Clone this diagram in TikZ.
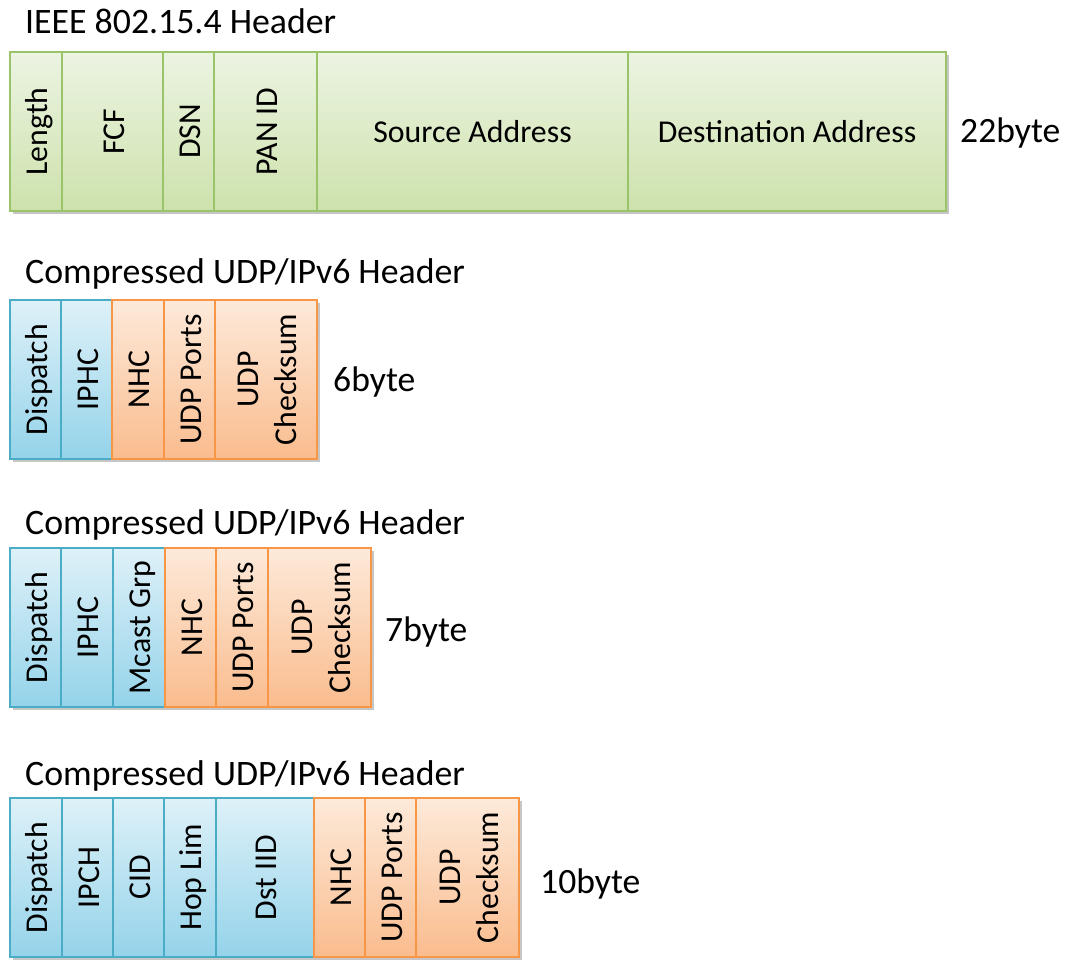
\documentclass[tikz,border=0pt]{standalone}
\usepackage{fontspec}
\setmainfont{Carlito}
\usepackage{graphicx}
\usepackage{xcolor}
\usetikzlibrary{shadows}

\definecolor{gline}{RGB}{155,195,105}
\definecolor{gtop}{RGB}{236,244,226}
\definecolor{gbot}{RGB}{205,226,172}
\definecolor{bline}{RGB}{75,172,198}
\definecolor{btop}{RGB}{222,241,248}
\definecolor{bbot}{RGB}{148,211,234}
\definecolor{oline}{RGB}{247,150,70}
\definecolor{otop}{RGB}{253,234,218}
\definecolor{obot}{RGB}{250,188,142}

\newcommand{\vlabel}[1]{\hspace*{8pt}\rotatebox{90}{\begin{tabular}{@{}c@{}}#1\end{tabular}}}

\tikzset{
    field/.style={rectangle, anchor=north west, line width=1.2pt, inner sep=0pt, outer sep=0pt,
        minimum height=159pt, font=\fontsize{31.8}{38}\selectfont,
        drop shadow={shadow xshift=2.5pt, shadow yshift=-2.5pt, opacity=0.45}},
    gfield/.style={field, draw=gline, top color=gtop, bottom color=gbot},
    bfield/.style={field, draw=bline, top color=btop, bottom color=bbot},
    ofield/.style={field, draw=oline, top color=otop, bottom color=obot},
    title/.style={anchor=base west, inner sep=0pt, font=\fontsize{35.8}{42}\selectfont},
    bytes/.style={anchor=west, inner sep=0pt, font=\fontsize{35.6}{42}\selectfont}
}

\begin{document}
\begin{tikzpicture}[x=1pt, y=-1pt]
        \useasboundingbox (0,0) rectangle (1069,961);
        % IEEE 802.15.4 header
        \node[title] (ieeetitle) at (25,34) {IEEE 802.15.4 Header};
        \node[gfield, minimum width=52] (len) at (10,52) {\vlabel{Length}};
        \node[gfield, minimum width=101] (fcf) at (62,52) {\vlabel{FCF}};
        \node[gfield, minimum width=51] (dsn) at (163,52) {\vlabel{DSN}};
        \node[gfield, minimum width=103] (panid) at (214,52) {\vlabel{PAN ID}};
        \node[gfield, minimum width=311] (srcaddr) at (317,52) {Source Address};
        \node[gfield, minimum width=318] (dstaddr) at (628,52) {Destination Address};
        \node[bytes] (bytesA) at (960,133) {22byte};
        % compressed, 6 byte
        \node[title] (titleB) at (25,283) {Compressed UDP/IPv6 Header};
        \node[bfield, minimum width=51] (dispB) at (10,300) {\vlabel{Dispatch}};
        \node[bfield, minimum width=51] (iphcB) at (61,300) {\vlabel{IPHC}};
        \node[ofield, minimum width=52] (nhcB) at (112,300) {\vlabel{NHC}};
        \node[ofield, minimum width=51] (portsB) at (164,300) {\vlabel{UDP Ports}};
        \node[ofield, minimum width=102] (csumB) at (215,300) {\vlabel{UDP\\Checksum}};
        \node[bytes] (bytesB) at (333,382) {6byte};
        % compressed, 7 byte
        \node[title] (titleC) at (25,534) {Compressed UDP/IPv6 Header};
        \node[bfield, minimum width=51] (dispC) at (10,548) {\vlabel{Dispatch}};
        \node[bfield, minimum width=52] (iphcC) at (61,548) {\vlabel{IPHC}};
        \node[bfield, minimum width=52] (mcastC) at (113,548) {\vlabel{Mcast Grp}};
        \node[ofield, minimum width=51] (nhcC) at (165,548) {\vlabel{NHC}};
        \node[ofield, minimum width=52] (portsC) at (216,548) {\vlabel{UDP Ports}};
        \node[ofield, minimum width=103] (csumC) at (268,548) {\vlabel{UDP\\Checksum}};
        \node[bytes] (bytesC) at (385,632) {7byte};
        % compressed, 10 byte
        \node[title] (titleD) at (25,785) {Compressed UDP/IPv6 Header};
        \node[bfield, minimum width=52] (dispD) at (10,798) {\vlabel{Dispatch}};
        \node[bfield, minimum width=51] (ipchD) at (62,798) {\vlabel{IPCH}};
        \node[bfield, minimum width=51] (cidD) at (113,798) {\vlabel{CID}};
        \node[bfield, minimum width=52] (hopD) at (164,798) {\vlabel{Hop Lim}};
        \node[bfield, minimum width=98] (iidD) at (216,798) {\vlabel{Dst IID}};
        \node[ofield, minimum width=51] (nhcD) at (314,798) {\vlabel{NHC}};
        \node[ofield, minimum width=51] (portsD) at (365,798) {\vlabel{UDP Ports}};
        \node[ofield, minimum width=103] (csumD) at (416,798) {\vlabel{UDP\\Checksum}};
        \node[bytes] (bytesD) at (540,884) {10byte};
    \end{tikzpicture}
\end{document}
